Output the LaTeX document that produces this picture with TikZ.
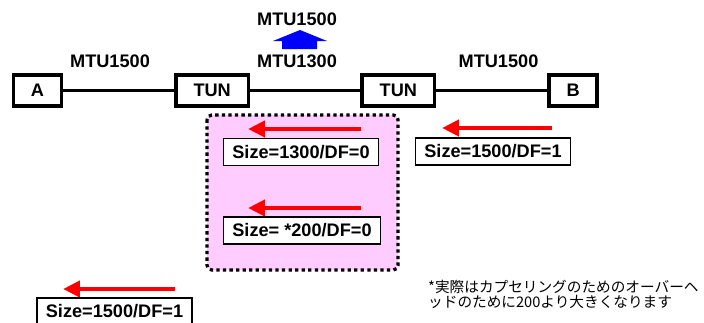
\documentclass[tikz,border=0pt]{standalone}
\usepackage{fontspec}
\setmainfont{Liberation Sans}
\newfontfamily\cjk{Noto Sans CJK JP}
\usetikzlibrary{arrows.meta,positioning}
\definecolor{zonepink}{HTML}{FFCCFF}

\begin{document}
\begin{tikzpicture}[
    x=0.03cm, y=-0.03cm,
    node distance=3.33cm,
    hostbox/.style={draw, line width=3pt, minimum height=0.92cm, inner sep=0pt,
                    font=\bfseries\fontsize{15.5}{18}\selectfont},
    sizebox/.style={draw, fill=white, line width=1.2pt, minimum height=0.8cm,
                    inner xsep=0.27cm, inner ysep=0pt,
                    font=\bfseries\fontsize{15.5}{18}\selectfont},
    mtu/.style={font=\bfseries\fontsize{15.5}{18}\selectfont},
    link/.style={line width=2.6pt},
    pkt/.style={-{Triangle[length=14.5pt, width=13.6pt]}, red, line width=3.8pt},
    zone/.style={fill=zonepink, draw=black, line width=2.8pt,
                 dash pattern=on 2.8pt off 2.8pt, rounded corners=4pt},
]
\clip (0,0) rectangle (704,322);

% Hosts and tunnel ends
\node[hostbox, minimum width=1.43cm] (hostA) at (37.5,90.5) {A};
\node[hostbox, minimum width=2.18cm, right=of hostA] (tunL) {TUN};
\node[hostbox, minimum width=2.18cm, right=3.3cm of tunL] (tunR) {TUN};
\node[hostbox, minimum width=1.43cm, right=of tunR] (hostB) {B};

% Links
\draw[link] (hostA) -- (tunL);
\draw[link] (tunL) -- (tunR);
\draw[link] (tunR) -- (hostB);

% MTU labels
\node[mtu] (mtuA) at (110,61) {MTU1500};
\node[mtu] (mtuT) at (297,61) {MTU1300};
\node[mtu] (mtuB) at (498.5,61) {MTU1500};
\node[mtu] (mtuUp) at (297,19) {MTU1500};
\fill[blue] (300,30) -- (327,41) -- (317,41) -- (317,49) -- (282,49)
    -- (282,41) -- (273,41) -- cycle;

% Tunnel region
\draw[zone] (207,115) rectangle (398,270);

% Packets
\coordinate (p1s) at (361,129); \coordinate (p1e) at (248,129);
\coordinate (p2s) at (361,208); \coordinate (p2e) at (248,208);
\coordinate (p3s) at (552,128); \coordinate (p3e) at (442,128);
\coordinate (p4s) at (175,289); \coordinate (p4e) at (63,289);
\draw[pkt] (p1s) -- (p1e);
\draw[pkt] (p2s) -- (p2e);
\draw[pkt] (p3s) -- (p3e);
\draw[pkt] (p4s) -- (p4e);
\node[sizebox] (inner1) at (301,152) {Size=1300/DF=0};
\node[sizebox] (inner2) at (302,230.5) {Size= *200/DF=0};
\node[sizebox] (fromB) at (493,151.5) {Size=1500/DF=1};
\node[sizebox] (toA) at (114.5,311.5) {Size=1500/DF=1};

% Note
\node[anchor=north west, align=left, inner sep=0pt,
      font=\cjk\fontsize{12.5}{12.8}\selectfont] (note) at (428,280)
    {*実際はカプセリングのためのオーバーヘ\\ッドのために200より大きくなります};

\end{tikzpicture}
\end{document}
